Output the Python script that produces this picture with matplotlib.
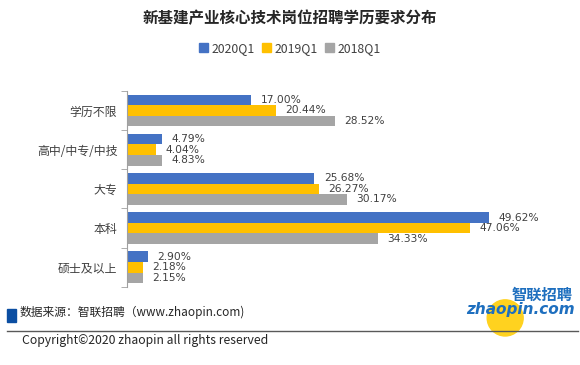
import numpy as np
import matplotlib
matplotlib.use("Agg")
from matplotlib import pyplot as plt
from matplotlib.patches import Rectangle, Ellipse
from matplotlib.lines import Line2D

plt.rcParams['font.family'] = ['Noto Sans CJK SC', 'DejaVu Sans']

categories = ['学历不限', '高中/中专/中技', '大专', '本科', '硕士及以上']
series = ['2020Q1', '2019Q1', '2018Q1']
v2020 = [17.00, 4.79, 25.68, 49.62, 2.90]
v2019 = [20.44, 4.04, 26.27, 47.06, 2.18]
v2018 = [28.52, 4.83, 30.17, 34.33, 2.15]
colors = ['#4472C4', '#FFC000', '#A5A5A5']

fig = plt.figure(figsize=(5.8, 3.65), dpi=100)
ax = fig.add_axes([0.219, 0.214, 0.78, 0.537])

n = len(categories)
y = np.arange(n)
h = 0.27
for i, (vals, c) in enumerate(zip([v2020, v2019, v2018], colors)):
    pos = y + (i - 1) * h
    ax.barh(pos, vals, height=h, color=c, label=series[i])
    for p, v in zip(pos, vals):
        ax.text(v + 1.3, p, f'{v:.2f}%', va='center', ha='left',
                fontsize=7.7, color='#404040', family=['DejaVu Sans'])

ax.set_ylim(n - 0.5, -0.5)
ax.set_xlim(0, 62)
ax.set_yticks(y)
ax.set_yticklabels(categories, fontsize=8.6, color='#404040')
ax.set_yticks(np.arange(-0.5, n, 1), minor=True)
ax.tick_params(axis='y', which='major', length=0, pad=7)
ax.tick_params(axis='y', which='minor', length=4, color='#A0A0A0')
ax.set_xticks([])
for s in ['top', 'right', 'bottom']:
    ax.spines[s].set_visible(False)
ax.spines['left'].set_color('#A0A0A0')

fig.text(0.5, 0.95, '新基建产业核心技术岗位招聘学历要求分布', ha='center', va='center',
         fontsize=11.2, fontweight='bold', color='#262626')

handles = [Rectangle((0, 0), 1, 1, color=c) for c in colors]
fig.legend(handles, series, loc='center', bbox_to_anchor=(0.5, 0.868), ncol=3,
           frameon=False, fontsize=8.8, handlelength=0.7, handleheight=0.7,
           handletextpad=0.3, columnspacing=0.6, labelcolor='#404040')

fig.patches.append(Rectangle((0.012, 0.118), 0.016, 0.036, transform=fig.transFigure,
                             color='#0B4EA2'))
fig.text(0.034, 0.143, '数据来源：智联招聘（www.zhaopin.com)', ha='left', va='center',
         fontsize=8.5, color='#262626')
fig.lines.append(Line2D([0.012, 0.997], [0.093, 0.093], transform=fig.transFigure,
                        color='#595959', lw=1))
fig.text(0.038, 0.068, 'Copyright©2020 zhaopin all rights reserved', ha='left',
         va='center', fontsize=8.8, color='#262626')

# logo
fig.patches.append(Ellipse((0.871, 0.129), 0.062, 0.099, transform=fig.transFigure,
                           color='#FFD21F', zorder=1))
fig.text(0.935, 0.192, '智联招聘', ha='center', va='center', fontsize=11,
         fontweight='bold', style='italic', color='#1E6FBF', zorder=2)
fig.text(0.897, 0.151, 'zhaopin.com', ha='center', va='center', fontsize=11,
         fontweight='bold', style='italic', color='#1E6FBF', family=['DejaVu Sans'],
         zorder=2)

fig.savefig('out.png', dpi=100)
